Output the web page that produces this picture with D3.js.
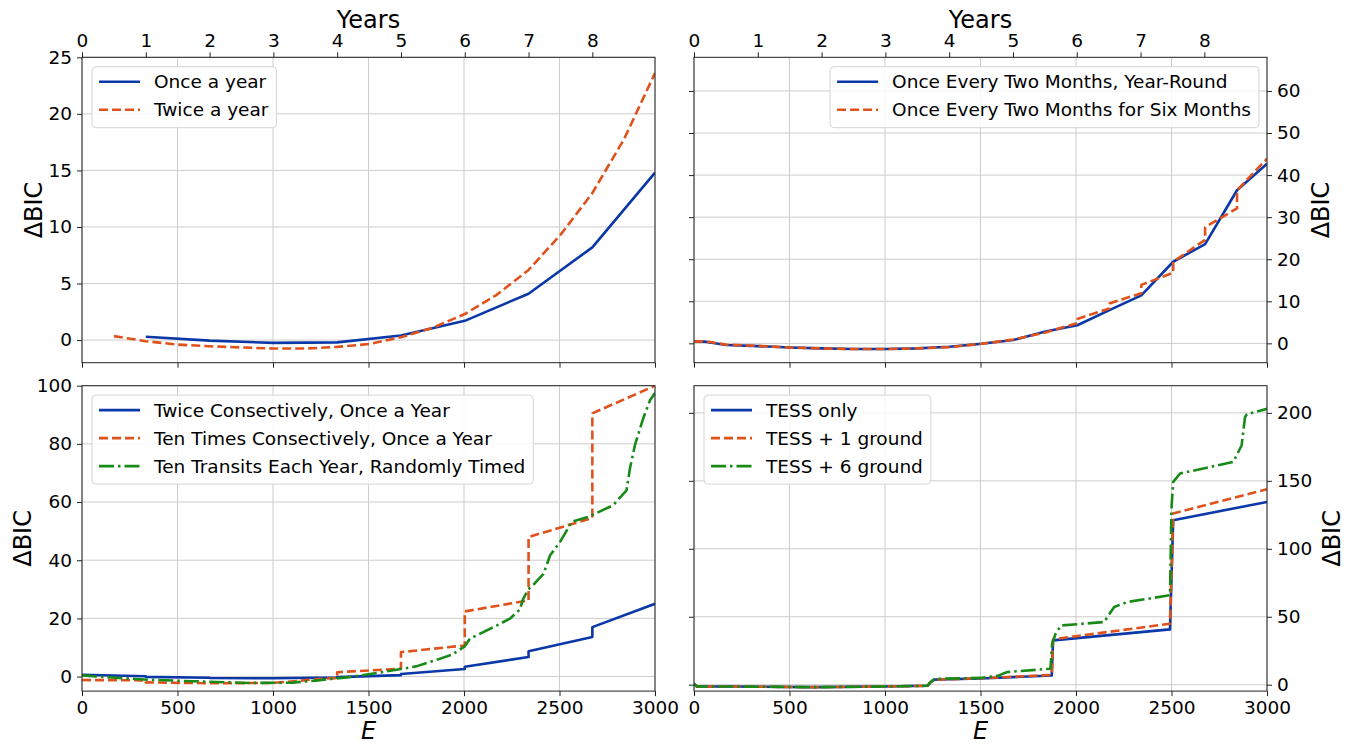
<!DOCTYPE html>
<html>
<head>
<meta charset="utf-8">
<script src="https://cdn.jsdelivr.net/npm/d3@7"></script>
<style>
  body { margin: 0; background: #fff; }
  svg text { font-family: "DejaVu Sans", sans-serif; fill: #000; }
</style>
</head>
<body>
<svg id="fig" width="1356" height="744"></svg>
<script>
// ---- data ----
const xTicks = [0, 500, 1000, 1500, 2000, 2500, 3000];
const yearTicks = [0, 1, 2, 3, 4, 5, 6, 7, 8];
const epochsPerYear = 334;

// top left
const onceYearE = [334, 668, 1002, 1336, 1670, 2004, 2338, 2672, 3000];
const onceYearV = [0.3, -0.05, -0.25, -0.2, 0.4, 1.7, 4.1, 8.2, 14.8];
const twiceYearE = [167, 334, 501, 668, 835, 1002, 1169, 1336, 1503, 1670, 1837, 2004, 2171, 2338, 2505, 2672, 2839, 3000];
const twiceYearV = [0.35, -0.1, -0.4, -0.55, -0.65, -0.75, -0.75, -0.6, -0.35, 0.25, 1.1, 2.3, 4.0, 6.2, 9.3, 13.0, 17.8, 23.6];
const tlTicks = [0, 5, 10, 15, 20, 25];

// top right
const yearRoundE = [0, 60, 167, 334, 502, 669, 836, 1003, 1170, 1338, 1505, 1672, 1840, 2007, 2175, 2342, 2509, 2676, 2843, 3000];
const yearRoundV = [0.4, 0.4, -0.4, -0.65, -1.0, -1.2, -1.35, -1.35, -1.2, -0.8, -0.1, 0.8, 2.8, 4.3, 7.9, 11.4, 19.4, 23.6, 36.4, 42.7];
const sixMonthsE = [0, 60, 167, 334, 502, 669, 836, 1003, 1170, 1338, 1505, 1672, 1840, 2007, 2007, 2175, 2175, 2342, 2342, 2509, 2509, 2676, 2676, 2843, 2843, 3000];
const sixMonthsV = [0.4, 0.5, -0.3, -0.6, -1.0, -1.2, -1.35, -1.35, -1.2, -0.9, -0.1, 0.9, 2.6, 4.8, 5.8, 8.3, 9.5, 11.9, 13.9, 16.8, 19.4, 24.6, 27.6, 32.1, 36.4, 43.9];
const trTicks = [0, 10, 20, 30, 40, 50, 60];

// bottom left
const twiceConsE = [0, 334, 334, 668, 668, 1002, 1336, 1336, 1670, 1670, 2004, 2004, 2338, 2338, 2672, 2672, 3000];
const twiceConsV = [0.6, 0.1, -0.1, -0.4, -0.5, -0.6, -0.3, -0.2, 0.5, 0.9, 2.6, 3.4, 6.7, 8.7, 13.6, 17.0, 25.0];
const tenConsE = [0, 334, 334, 668, 1002, 1250, 1336, 1336, 1670, 1670, 2004, 2004, 2338, 2338, 2672, 2672, 3000];
const tenConsV = [-1.2, -1.3, -2.0, -2.3, -2.2, -0.8, -0.5, 1.5, 2.7, 8.4, 10.7, 22.4, 26.2, 48.0, 54.5, 90.5, 100.0];
const tenRandE = [0, 175, 350, 578, 873, 1100, 1222, 1397, 1571, 1670, 1750, 1846, 1937, 2004, 2031, 2101, 2170, 2240, 2292, 2310, 2337, 2370, 2416, 2451, 2503, 2564, 2651, 2781, 2851, 2869, 2895, 2939, 2974, 3000];
const tenRandV = [0.4, -0.4, -1.1, -1.6, -2.2, -2.1, -1.4, -0.2, 1.5, 2.6, 3.5, 5.5, 7.5, 10.4, 13.0, 15.3, 17.5, 19.9, 23.0, 26.7, 30.0, 32.0, 35.3, 41.7, 46.3, 53.2, 54.9, 58.9, 64.0, 71.6, 79.6, 88.9, 95.0, 97.5];
const blTicks = [0, 20, 40, 60, 80, 100];

// bottom right
const tessE = [0, 15, 200, 620, 1000, 1222, 1240, 1257, 1290, 1500, 1873, 1880, 2492, 2509, 3000];
const tessV = [0.8, -1.3, -1.3, -1.8, -1.3, -0.8, 2.0, 3.6, 3.9, 4.6, 6.8, 32.6, 40.7, 121, 134.5];
const tess1E = [0, 15, 200, 620, 1000, 1222, 1240, 1257, 1290, 1500, 1873, 1880, 2492, 2509, 3000];
const tess1V = [0.8, -1.3, -1.3, -1.8, -1.3, -0.8, 2.0, 3.6, 3.9, 4.8, 7.2, 33.4, 44.9, 126, 143.8];
const tess6E = [0, 15, 200, 620, 1000, 1222, 1240, 1257, 1290, 1500, 1590, 1640, 1866, 1875, 1893, 1922, 2147, 2175, 2200, 2270, 2492, 2500, 2509, 2545, 2823, 2867, 2885, 2895, 3000];
const tess6V = [0.8, -1.3, -1.3, -1.8, -1.3, -0.8, 2.0, 4.0, 4.4, 5.0, 6.5, 9.3, 11.8, 30, 37.5, 43.6, 46.1, 52, 57.2, 60.9, 65.8, 130, 149.2, 155.4, 163.9, 176, 197, 199, 203];
const brTicks = [0, 50, 100, 150, 200];

// ---- drawing ----
const BLUE = '#0b38a8', ORANGE = '#e0521c', GREEN = '#178a17';
const DASHED = '9,4', DASHDOT = '15,4,2.5,4';
const W = 573, H = 305.4;
const fmt = d3.format('d');

const svg = d3.select('#fig');
svg.append('rect').attr('width', 1356).attr('height', 744).attr('fill', '#fff');

function styleAxis(g, fontSize) {
  g.select('.domain').remove();
  g.selectAll('.tick line').attr('stroke', '#222').attr('stroke-width', 1);
  g.selectAll('.tick text').style('font-size', fontSize + 'px').attr('fill', '#000');
}

function drawPanel(p, idx) {
  const x = d3.scaleLinear().domain([0, 3000]).range([p.left, p.left + W]);
  const y = d3.scaleLinear().domain(p.yDomain).range([p.top + H, p.top]);
  const g = svg.append('g');

  // grid
  g.append('g').selectAll('line').data(xTicks).enter().append('line')
    .attr('x1', d => x(d)).attr('x2', d => x(d))
    .attr('y1', p.top).attr('y2', p.top + H)
    .attr('stroke', '#cdcdcd').attr('stroke-width', 1);
  g.append('g').selectAll('line').data(p.yTicks).enter().append('line')
    .attr('x1', p.left).attr('x2', p.left + W)
    .attr('y1', d => y(d)).attr('y2', d => y(d))
    .attr('stroke', '#cdcdcd').attr('stroke-width', 1);

  // series
  const clipId = 'clip' + idx;
  svg.append('clipPath').attr('id', clipId).append('rect')
    .attr('x', p.left).attr('y', p.top).attr('width', W).attr('height', H);
  const line = d3.line().x(d => x(d[0])).y(d => y(d[1]));
  g.append('g').attr('clip-path', `url(#${clipId})`)
    .selectAll('path').data(p.series).enter().append('path')
    .attr('d', s => line(d3.zip(s.E, s.V)))
    .attr('fill', 'none')
    .attr('stroke', s => s.color)
    .attr('stroke-width', 2.6)
    .attr('stroke-linejoin', 'round')
    .attr('stroke-dasharray', s => s.dash);

  // x axis bottom
  const xAxis = d3.axisBottom(x).tickValues(xTicks).tickSize(5).tickSizeOuter(0).tickPadding(5)
    .tickFormat(p.xLabels ? fmt : '');
  g.append('g').attr('transform', `translate(0,${p.top + H})`).call(xAxis).call(s => styleAxis(s, 18.5));

  // years axis top
  if (p.years) {
    const yrs = d3.scaleLinear().domain([0, 3000 / epochsPerYear]).range([p.left, p.left + W]);
    g.append('g').attr('transform', `translate(0,${p.top})`)
      .call(d3.axisTop(yrs).tickValues(yearTicks).tickFormat(fmt).tickSize(5).tickSizeOuter(0).tickPadding(5))
      .call(s => styleAxis(s, 18.5));
    g.append('text').attr('x', p.left + W / 2).attr('y', 27.5)
      .attr('text-anchor', 'middle').style('font-size', '24px').text('Years');
  }

  // y axes
  const yl = d3.axisLeft(y).tickValues(p.yTicks).tickSize(5).tickSizeOuter(0).tickPadding(5)
    .tickFormat(p.right ? '' : fmt);
  g.append('g').attr('transform', `translate(${p.left},0)`).call(yl).call(s => styleAxis(s, 18.5));
  if (p.right) {
    const yr = d3.axisRight(y).tickValues(p.yTicks).tickFormat(fmt).tickSize(5).tickSizeOuter(0).tickPadding(5);
    g.append('g').attr('transform', `translate(${p.left + W},0)`).call(yr).call(s => styleAxis(s, 18.5));
  }

  // spines
  g.append('rect').attr('x', p.left).attr('y', p.top).attr('width', W).attr('height', H)
    .attr('fill', 'none').attr('stroke', '#222').attr('stroke-width', 1);

  // axis labels
  g.append('text')
    .attr('transform', `translate(${p.ylabelX},${p.top + H / 2}) rotate(-90)`)
    .attr('text-anchor', 'middle').style('font-size', '24px').text('\u0394BIC');
  if (p.xLabels) {
    g.append('text').attr('x', p.left + W / 2).attr('y', 739)
      .attr('text-anchor', 'middle').style('font-size', '24px').style('font-style', 'italic').text('E');
  }

  // legend
  const lg = g.append('g');
  const box = lg.append('rect').attr('rx', 4)
    .attr('fill', '#fff').attr('fill-opacity', 0.85)
    .attr('stroke', '#d5d5d5').attr('stroke-width', 1);
  let maxW = 0;
  p.series.forEach((s, i) => {
    const ry = 15 + i * 28;
    lg.append('line').attr('x1', 7).attr('x2', 48).attr('y1', ry).attr('y2', ry)
      .attr('stroke', s.color).attr('stroke-width', 2.6).attr('stroke-dasharray', s.dash);
    const t = lg.append('text').attr('x', 62).attr('y', ry + 6.5)
      .style('font-size', '18.5px').text(s.name);
    maxW = Math.max(maxW, t.node().getComputedTextLength());
  });
  const bw = 62 + maxW + 8, bh = 28 * p.series.length + 5;
  box.attr('width', bw).attr('height', bh);
  const lx = p.legendRight ? p.left + W - 8 - bw : p.left + 10;
  lg.attr('transform', `translate(${lx},${p.top + 9.4})`);
}

const panels = [
  { left: 82, top: 57.3, yDomain: [-2, 25], yTicks: tlTicks, years: true, xLabels: false, right: false, ylabelX: 41.5,
    legendRight: false,
    series: [
      { name: 'Once a year', E: onceYearE, V: onceYearV, color: BLUE, dash: null },
      { name: 'Twice a year', E: twiceYearE, V: twiceYearV, color: ORANGE, dash: DASHED }
    ] },
  { left: 694, top: 57.3, yDomain: [-4.6, 68], yTicks: trTicks, years: true, xLabels: false, right: true, ylabelX: 1329,
    legendRight: true,
    series: [
      { name: 'Once Every Two Months, Year-Round', E: yearRoundE, V: yearRoundV, color: BLUE, dash: null },
      { name: 'Once Every Two Months for Six Months', E: sixMonthsE, V: sixMonthsV, color: ORANGE, dash: DASHED }
    ] },
  { left: 82, top: 385.7, yDomain: [-5, 100], yTicks: blTicks, years: false, xLabels: true, right: false, ylabelX: 31,
    legendRight: false,
    series: [
      { name: 'Twice Consectively, Once a Year', E: twiceConsE, V: twiceConsV, color: BLUE, dash: null },
      { name: 'Ten Times Consectively, Once a Year', E: tenConsE, V: tenConsV, color: ORANGE, dash: DASHED },
      { name: 'Ten Transits Each Year, Randomly Timed', E: tenRandE, V: tenRandV, color: GREEN, dash: DASHDOT }
    ] },
  { left: 694, top: 385.7, yDomain: [-4.7, 220], yTicks: brTicks, years: false, xLabels: true, right: true, ylabelX: 1340,
    legendRight: false,
    series: [
      { name: 'TESS only', E: tessE, V: tessV, color: BLUE, dash: null },
      { name: 'TESS + 1 ground', E: tess1E, V: tess1V, color: ORANGE, dash: DASHED },
      { name: 'TESS + 6 ground', E: tess6E, V: tess6V, color: GREEN, dash: DASHDOT }
    ] }
];

panels.forEach(drawPanel);
</script>
</body>
</html>
